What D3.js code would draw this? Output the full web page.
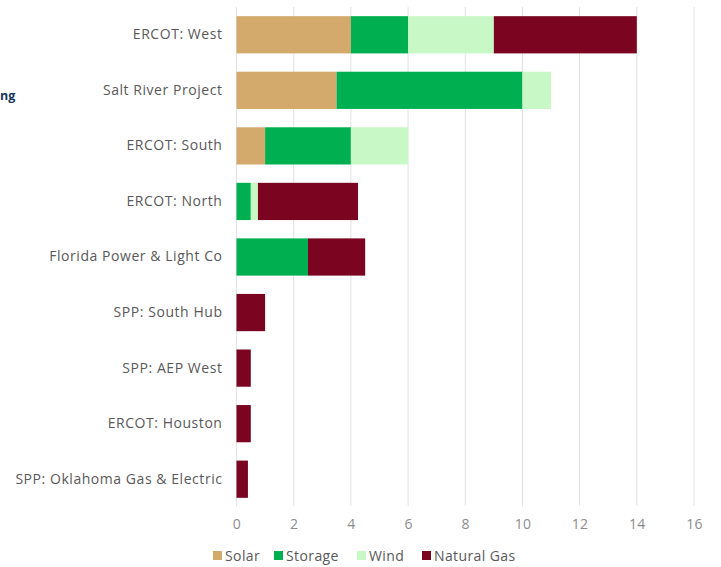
<!DOCTYPE html>
<html>
<head>
<meta charset="utf-8">
<script src="https://cdn.jsdelivr.net/npm/d3@7"></script>
<style>
  html, body { margin: 0; padding: 0; background: #ffffff; }
  svg { display: block; }
  text { font-family: "Open Sans", "Noto Sans", sans-serif; }
</style>
</head>
<body>
<svg id="chart" width="721" height="567"></svg>
<script>
// Interconnection queue capacity by region and technology (GW)
const regions = [
  "ERCOT: West",
  "Salt River Project",
  "ERCOT: South",
  "ERCOT: North",
  "Florida Power & Light Co",
  "SPP: South Hub",
  "SPP: AEP West",
  "ERCOT: Houston",
  "SPP: Oklahoma Gas & Electric"
];
const seriesNames = ["Solar", "Storage", "Wind", "Natural Gas"];
const solar      = [4.0, 3.5, 1.0, 0,    0,   0,   0,   0,   0];
const storage    = [2.0, 6.5, 3.0, 0.5,  2.5, 0,   0,   0,   0];
const wind       = [3.0, 1.0, 2.0, 0.25, 0,   0,   0,   0,   0];
const naturalGas = [5.0, 0,   0,   3.5,  2.0, 1.0, 0.5, 0.5, 0.4];
const xTicks = [0, 2, 4, 6, 8, 10, 12, 14, 16];
const colors = ["#d3a96c", "#00b050", "#c8f8c5", "#7b0521"];

const rows = regions.map((r, i) => ({
  region: r,
  "Solar": solar[i],
  "Storage": storage[i],
  "Wind": wind[i],
  "Natural Gas": naturalGas[i]
}));

const svg = d3.select("#chart");
const margin = { left: 236.5, right: 27, top: 7, bottom: 60 };
const W = 721, H = 567;

const x = d3.scaleLinear().domain([0, 16]).range([margin.left, W - margin.right]);
const y = d3.scaleBand().domain(regions).range([margin.top, H - margin.bottom]).paddingInner(0.33).paddingOuter(0.165);
const color = d3.scaleOrdinal().domain(seriesNames).range(colors);

// Tail of the page title, clipped by the left edge of the panel
svg.append("text")
  .attr("x", 0).attr("y", 100)
  .attr("text-anchor", "start")
  .attr("font-size", 12.5).attr("font-weight", 700)
  .attr("fill", "#17375e")
  .text("ng");

// Vertical grid lines
svg.append("g")
  .selectAll("line")
  .data(xTicks)
  .join("line")
  .attr("x1", d => x(d)).attr("x2", d => x(d))
  .attr("y1", margin.top).attr("y2", H - margin.bottom - 1)
  .attr("stroke", "#e2e2e2").attr("stroke-width", 1);

// Stacked bars
const stack = d3.stack().keys(seriesNames);
const layers = stack(rows);
svg.append("g")
  .selectAll("g")
  .data(layers)
  .join("g")
  .attr("fill", d => color(d.key))
  .selectAll("rect")
  .data(d => d.filter(p => p[1] - p[0] > 0))
  .join("rect")
  .attr("x", d => x(d[0]))
  .attr("width", d => x(d[1]) - x(d[0]))
  .attr("y", d => y(d.data.region))
  .attr("height", y.bandwidth());

// Category labels
const yAxis = d3.axisLeft(y).tickSize(0).tickPadding(14);
const gy = svg.append("g").attr("transform", `translate(${margin.left},0)`).call(yAxis);
gy.select(".domain").remove();
gy.selectAll("text").attr("font-size", 14).attr("fill", "#595959")
  .attr("letter-spacing", 0.55)
  .style("font-family", "'Open Sans', sans-serif");

// Value axis labels
const xAxis = d3.axisBottom(x).tickValues(xTicks).tickSize(0).tickPadding(12);
const gx = svg.append("g").attr("transform", `translate(0,${H - margin.bottom})`).call(xAxis);
gx.select(".domain").remove();
gx.selectAll("text").attr("font-size", 14).attr("fill", "#8c8c8c")
  .attr("letter-spacing", 0.3)
  .style("font-family", "'Open Sans', sans-serif");

// Legend
const legendX = [213, 274, 357, 422];
const legend = svg.append("g");
seriesNames.forEach((name, i) => {
  const g = legend.append("g").attr("transform", `translate(${legendX[i]},556)`);
  g.append("rect").attr("x", 0).attr("y", -5).attr("width", 9).attr("height", 9).attr("fill", colors[i]);
  g.append("text").attr("x", 12).attr("y", 0).attr("dy", "0.35em")
    .attr("font-size", 14).attr("letter-spacing", 0.4)
    .attr("fill", "#595959").text(name);
});
</script>
</body>
</html>
